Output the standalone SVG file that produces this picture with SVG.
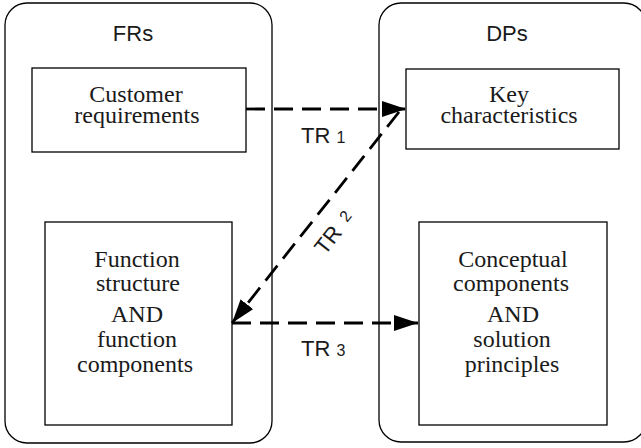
<svg xmlns="http://www.w3.org/2000/svg" width="641" height="448" viewBox="0 0 641 448">
<style>
.container{fill:#fff;stroke:#000;stroke-width:1.3}
.box{fill:#fff;stroke:#000;stroke-width:1.3}
.serif{font-family:"Liberation Serif","Times New Roman",serif;font-size:24px;fill:#1a1a1a;text-anchor:middle}
.sans{font-family:"Liberation Sans",Arial,sans-serif;font-size:22px;fill:#1a1a1a}
.num{font-size:16px}
.dash{fill:none;stroke:#000;stroke-width:2.8;stroke-dasharray:19 9}
</style>
<defs>
<marker id="ah" viewBox="0 0 24 16" refX="24" refY="8" markerWidth="24" markerHeight="16" markerUnits="userSpaceOnUse" orient="auto">
<path d="M0,0 L24,8 L0,16 Z" fill="#000"/>
</marker>
</defs>
<rect width="641" height="448" fill="#fff"/>
<g id="FRs">
<rect class="container" x="5" y="3" width="267" height="440" rx="22" ry="22"/>
<text class="sans" x="133" y="41" text-anchor="middle">FRs</text>
</g>
<g id="DPs">
<rect class="container" x="379" y="3" width="267" height="439" rx="22" ry="22"/>
<text class="sans" x="507" y="41" text-anchor="middle">DPs</text>
</g>
<g id="customer-requirements">
<rect class="box" x="32" y="68" width="214" height="84"/>
<text class="serif" x="136" y="101.7">Customer</text>
<text class="serif" x="137" y="122.7">requirements</text>
</g>
<g id="key-characteristics">
<rect class="box" x="406" y="69" width="213" height="80"/>
<text class="serif" x="509" y="101.7">Key</text>
<text class="serif" x="509" y="122.7">characteristics</text>
</g>
<g id="function-structure">
<rect class="box" x="45" y="222" width="187" height="203"/>
<text class="serif" x="137" y="267.3">Function</text>
<text class="serif" x="138" y="290.7">structure</text>
<text class="serif" x="137" y="322.3">AND</text>
<text class="serif" x="137" y="347.3">function</text>
<text class="serif" x="135" y="372.3">components</text>
</g>
<g id="conceptual-components">
<rect class="box" x="419" y="222" width="188" height="203"/>
<text class="serif" x="513" y="267.3">Conceptual</text>
<text class="serif" x="511" y="290.7">components</text>
<text class="serif" x="513" y="322.3">AND</text>
<text class="serif" x="512" y="347.3">solution</text>
<text class="serif" x="512" y="372.3">principles</text>
</g>
<g id="connectors">
<line class="dash" x1="246" y1="109" x2="406" y2="109" marker-end="url(#ah)"/>
<line class="dash" x1="399" y1="112" x2="232" y2="323" marker-end="url(#ah)"/>
<line class="dash" x1="232" y1="323" x2="418" y2="323" marker-end="url(#ah)"/>
<text class="sans" x="301" y="143">TR <tspan class="num">1</tspan></text>
<text class="sans" transform="translate(325,256) rotate(-52)" x="0" y="0">TR <tspan class="num" dx="4" dy="-3">2</tspan></text>
<text class="sans" x="301" y="356">TR <tspan class="num">3</tspan></text>
</g>
</svg>
